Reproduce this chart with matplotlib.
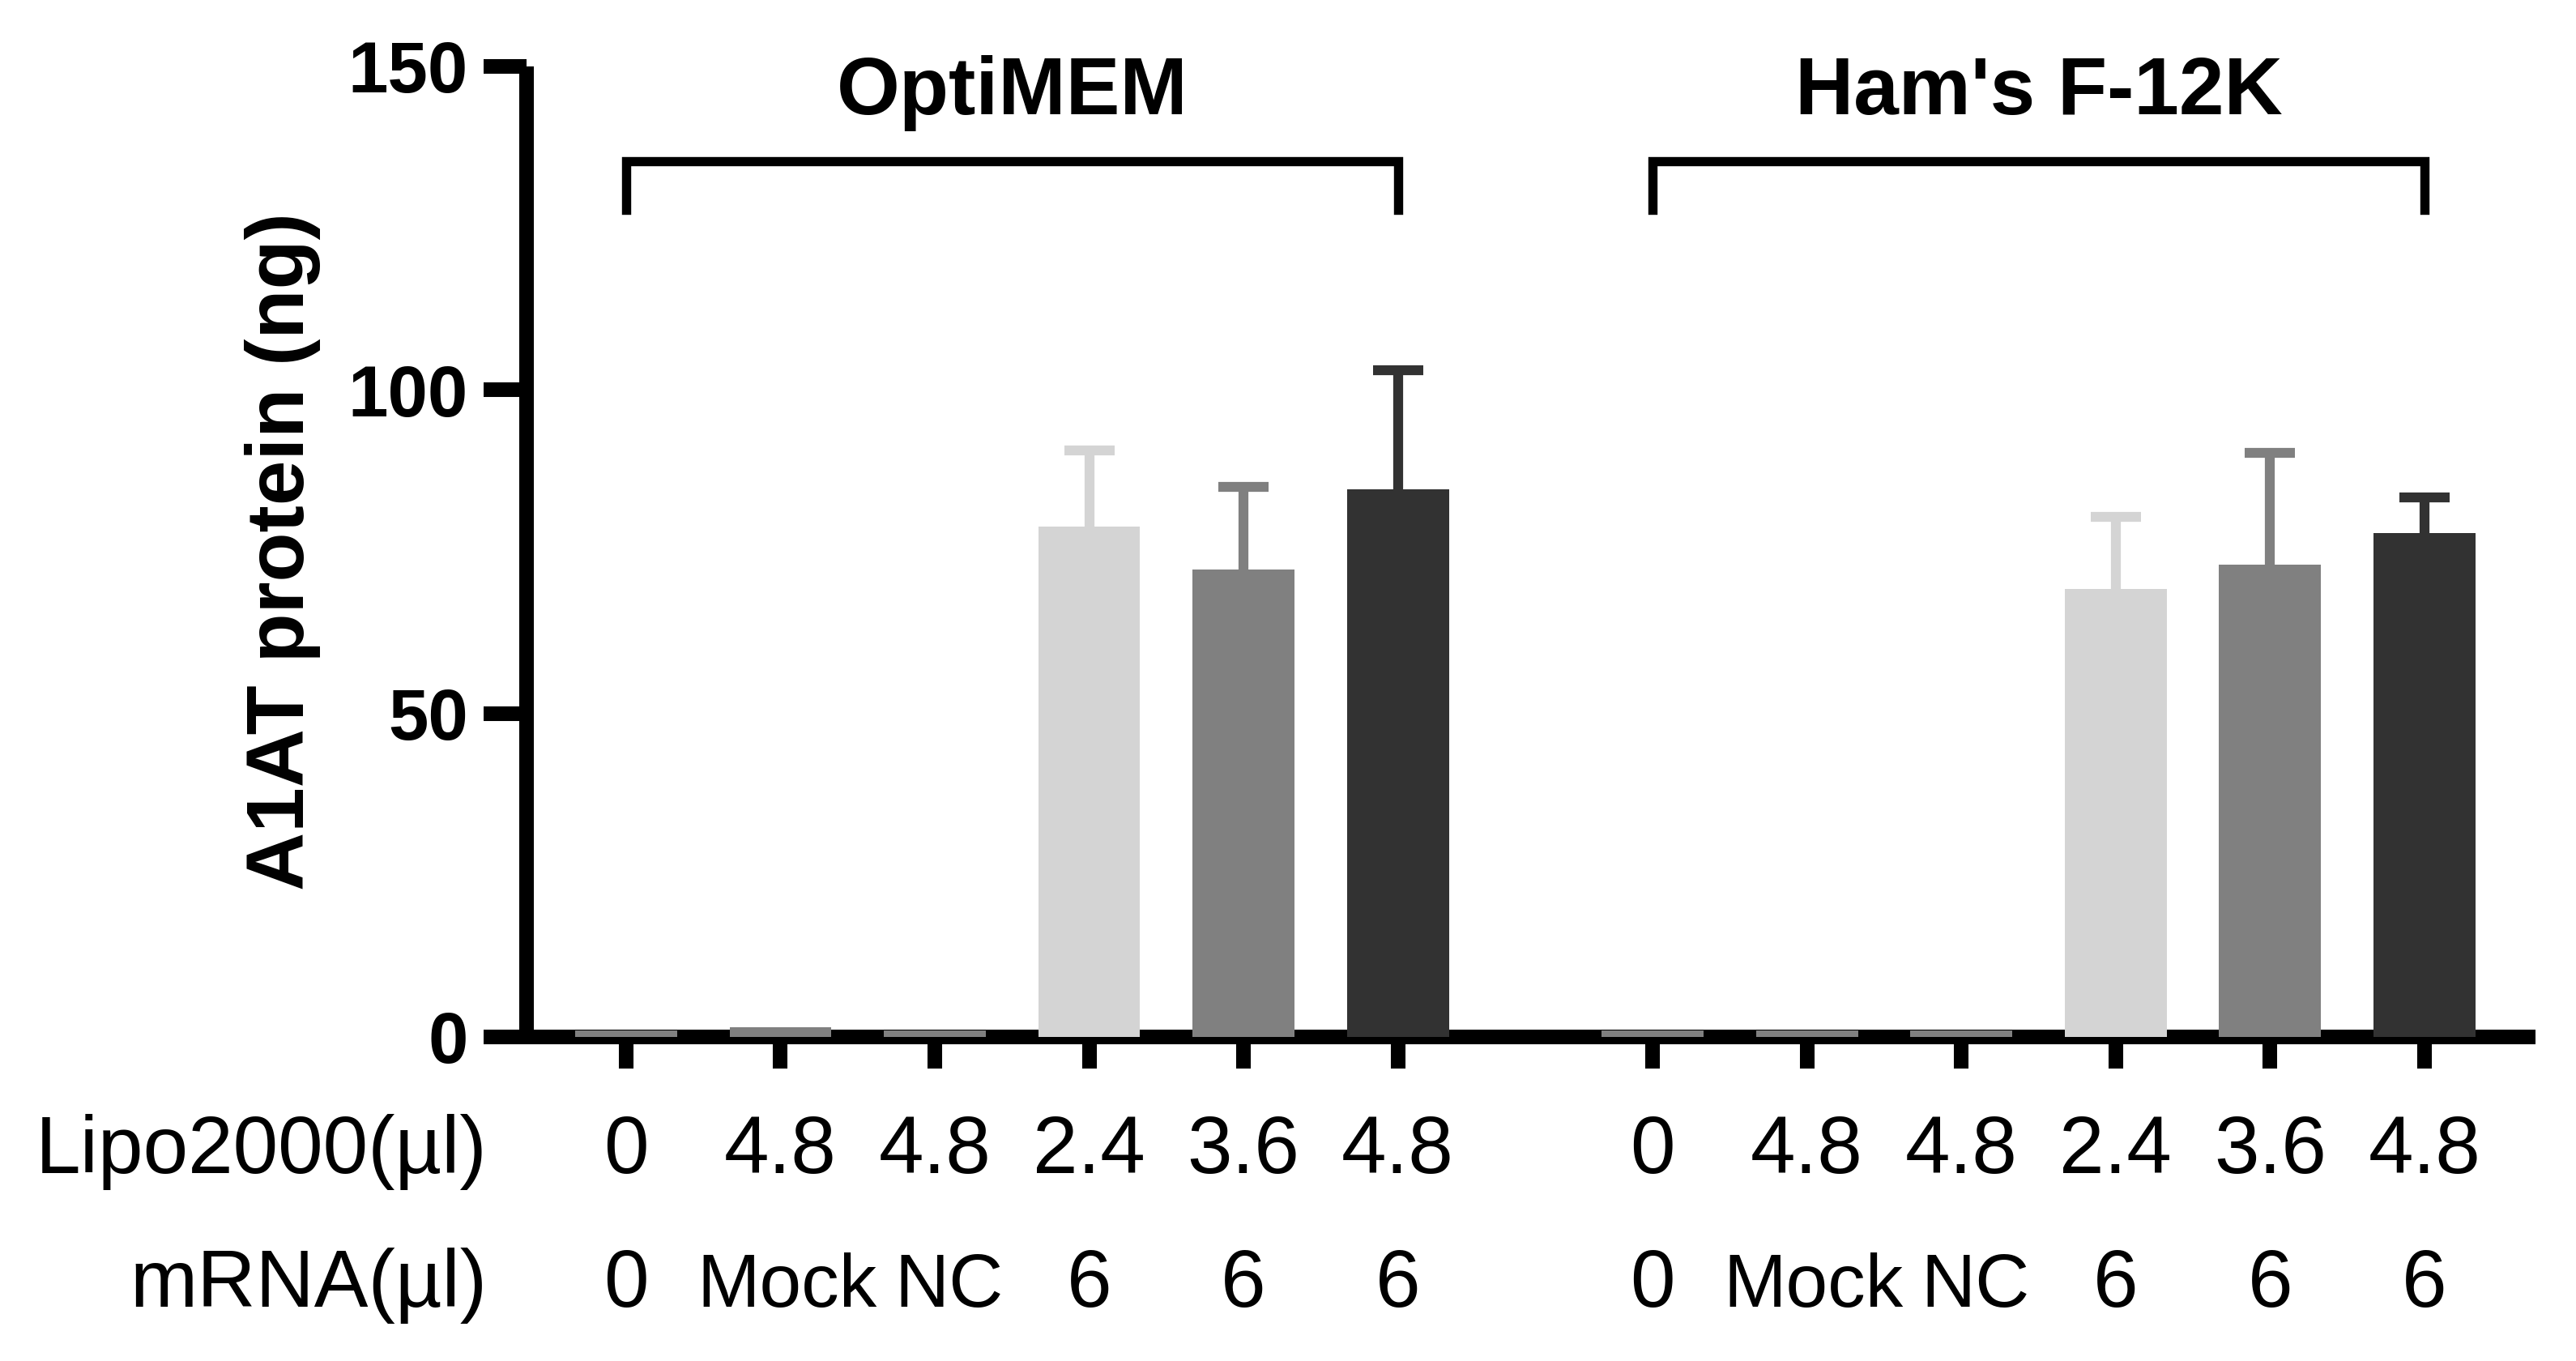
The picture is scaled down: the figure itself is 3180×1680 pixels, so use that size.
import matplotlib
matplotlib.use("Agg")
import matplotlib.pyplot as plt
import matplotlib.transforms as mtransforms

plt.rcParams['font.family'] = ['Liberation Sans', 'DejaVu Sans']

# data
groups = ["OptiMEM", "Ham's F-12K"]
lipo = ["0", "4.8", "4.8", "2.4", "3.6", "4.8"]
mrna = ["0", "Mock", "NC", "6", "6", "6"]
optimem_mean = [1.0, 1.5, 1.0, 78.8, 72.2, 84.6]
optimem_sd = [0, 0, 0, 11.8, 12.8, 18.4]
hams_mean = [1.0, 1.0, 1.0, 69.2, 73.0, 77.9]
hams_sd = [0, 0, 0, 11.1, 17.2, 5.5]
colors = ['#808080', '#808080', '#808080', '#d4d4d4', '#808080', '#323232']

group_gap = 6.65
bar_w = 0.66

fig = plt.figure(figsize=(15.9, 8.4), dpi=200)
ax = fig.add_axes([0.2044, 0.2381, 0.9843 - 0.2044, 0.9514 - 0.2381])

all_x = []
for g, (means, sds) in enumerate([(optimem_mean, optimem_sd), (hams_mean, hams_sd)]):
    xs = [g * group_gap + i for i in range(len(means))]
    all_x.append(xs)
    for x, m, s, c in zip(xs, means, sds, colors):
        ax.bar(x, m, width=bar_w, color=c, zorder=3)
        if s > 0:
            eb = ax.errorbar(x, m, yerr=[[0], [s]], color=c, elinewidth=4.4,
                             capsize=11.3, capthick=4.4, zorder=2)
            # only the upper cap
            eb[1][0].set_visible(False)
    # bracket + group title
    ax.plot([xs[0], xs[0], xs[-1], xs[-1]], [127.8, 135.3, 135.3, 127.8],
            color='black', lw=4.1, solid_joinstyle='miter', clip_on=False)
    ax.text((xs[0] + xs[-1]) / 2, 142.6, groups[g], ha='center', va='baseline',
            fontsize=36, fontweight='bold', clip_on=False)

ax.set_xlim(-0.645, 12.37)
ax.set_ylim(0, 150)
ax.set_yticks([0, 50, 100, 150])
ax.set_yticklabels(['0', '50', '100', '150'], fontweight='bold', fontsize=32)
flat_x = all_x[0] + all_x[1]
ax.set_xticks(flat_x)
ax.set_xticklabels([])

for side in ['top', 'right']:
    ax.spines[side].set_visible(False)
for side in ['left', 'bottom']:
    ax.spines[side].set_linewidth(6.5)
    ax.spines[side].set_capstyle('butt')
ax.tick_params(axis='y', width=6.5, length=19, pad=7)
ax.tick_params(axis='x', width=6.5, length=14)

ax.set_ylabel('A1AT protein (ng)', fontsize=36, fontweight='bold', labelpad=12)

# condition rows under the axis
trans = mtransforms.blended_transform_factory(ax.transData, fig.transFigure)
row_y = [0.1381, 0.0399]
mrna_shift = [0, 0.04, 0.09, 0, 0, 0]
fig.text(0.1893, row_y[0], 'Lipo2000(µl)', ha='right', va='baseline', fontsize=36)
fig.text(0.1893, row_y[1], 'mRNA(µl)', ha='right', va='baseline', fontsize=36)
for xs in all_x:
    for x, l, m, dx in zip(xs, lipo, mrna, mrna_shift):
        ax.text(x, row_y[0], l, transform=trans, ha='center', va='baseline', fontsize=36)
        fs = 33.5 if m in ('Mock', 'NC') else 36
        ax.text(x + dx, row_y[1], m, transform=trans, ha='center', va='baseline', fontsize=fs)

fig.savefig('out.png', dpi=200)
